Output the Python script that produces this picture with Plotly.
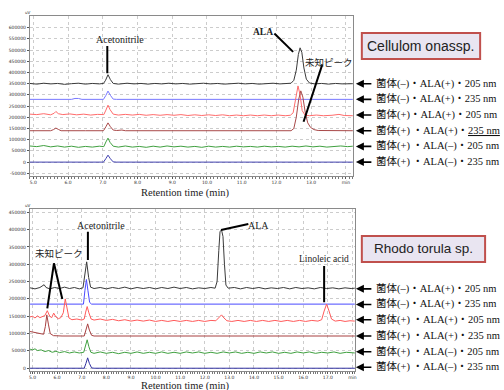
import plotly.graph_objects as go

W, H = 504, 390

# ---------------- data ----------------
# Top panel: Cellulomonas sp.  (time [min], signal [uV])
top_noCell_ALA_205 = [(4.9,351000),(5.1,348000),(5.3,352000),(5.5,349000),(5.7,351000),(5.9,347000),(6.1,350000),(6.3,352000),(6.5,348000),(6.7,351000),(6.9,349000),(7.02,351000),(7.08,365000),(7.15,390000),(7.22,368000),(7.3,351000),(7.45,348000),(7.7,352000),(7.9,349000),(8.1,351000),(8.3,348000),(8.5,351000),(8.7,349000),(8.9,352000),(9.1,349000),(9.3,351000),(9.5,348000),(9.7,350000),(9.9,352000),(10.1,349000),(10.3,351000),(10.5,348000),(10.7,350000),(10.9,352000),(11.1,349000),(11.3,351000),(11.5,348000),(11.7,350000),(11.9,352000),(12.1,349000),(12.3,351000),(12.42,352000),(12.5,365000),(12.57,410000),(12.63,480000),(12.68,510000),(12.73,490000),(12.79,420000),(12.86,370000),(12.95,353000),(13.1,349000),(13.3,351000),(13.5,348000),(13.7,351000),(13.9,349000),(14.2,350000)]
top_noCell_ALA_235 = [(4.9,280000),(6.1,280000),(6.2,284000),(6.3,284000),(6.4,280000),(7.02,280000),(7.09,298000),(7.15,317000),(7.22,298000),(7.3,281000),(7.4,280000),(14.2,280000)]
top_cell_ALA_205 = [(4.9,214000),(5.1,212000),(5.3,216000),(5.5,211000),(5.6,218000),(5.65,226000),(5.72,216000),(5.85,212000),(6.05,215000),(6.25,211000),(6.45,214000),(6.65,210000),(6.85,213000),(7.03,212000),(7.09,232000),(7.15,254000),(7.21,234000),(7.3,214000),(7.45,210000),(7.65,213000),(7.85,210000),(8.05,213000),(8.25,209000),(8.45,212000),(8.65,209000),(8.85,212000),(9.05,209000),(9.25,212000),(9.45,208000),(9.65,211000),(9.85,208000),(10.05,211000),(10.25,208000),(10.45,211000),(10.65,207000),(10.85,210000),(11.05,207000),(11.25,210000),(11.45,207000),(11.65,210000),(11.85,207000),(12.05,210000),(12.25,207000),(12.4,209000),(12.48,220000),(12.55,280000),(12.62,340000),(12.68,300000),(12.74,230000),(12.82,210000),(12.95,207000),(13.15,210000),(13.35,207000),(13.6,209000),(13.8,213000),(13.95,208000),(14.2,207000)]
top_cell_ALA_235 = [(4.9,140000),(5.5,140000),(5.58,145000),(5.65,152000),(5.72,146000),(5.8,140000),(6.5,140000),(7.02,140000),(7.09,158000),(7.15,175000),(7.22,158000),(7.3,143000),(7.4,141000),(7.55,143000),(7.65,140000),(12.42,140000),(12.5,150000),(12.57,200000),(12.64,280000),(12.7,318000),(12.76,290000),(12.83,220000),(12.9,175000),(12.98,155000),(13.08,145000),(13.2,141000),(14.2,140000)]
top_cell_noALA_205 = [(4.9,72000),(5.1,69000),(5.3,74000),(5.5,68000),(5.7,72000),(5.9,67000),(6.1,71000),(6.3,66000),(6.5,70000),(6.7,67000),(6.9,71000),(7.03,69000),(7.09,90000),(7.15,107000),(7.21,88000),(7.3,71000),(7.45,67000),(7.65,72000),(7.85,67000),(8.05,70000),(8.25,66000),(8.45,71000),(8.65,67000),(8.85,72000),(9.05,68000),(9.25,71000),(9.45,67000),(9.65,70000),(9.85,66000),(10.05,71000),(10.25,67000),(10.45,70000),(10.65,67000),(10.85,71000),(11.05,68000),(11.25,70000),(11.45,67000),(11.65,71000),(11.85,68000),(12.05,70000),(12.25,67000),(12.45,71000),(12.65,68000),(12.85,72000),(13.05,68000),(13.25,71000),(13.45,67000),(13.65,70000),(13.85,72000),(14.05,69000),(14.2,71000)]
top_cell_noALA_235 = [(4.9,0),(5.05,0),(5.1,3000),(5.15,0),(5.6,0),(5.65,3000),(5.7,0),(7.02,0),(7.09,16000),(7.15,31000),(7.22,15000),(7.3,1000),(7.4,0),(14.2,0)]

# Bottom panel: Rhodotorula sp.
bot_noCell_ALA_205 = [(4.9,232000),(5.1,229000),(5.3,233000),(5.4,237000),(5.47,241000),(5.55,233000),(5.7,229000),(5.9,233000),(6.1,230000),(6.3,234000),(6.5,230000),(6.7,233000),(6.9,229000),(7.05,232000),(7.12,265000),(7.2,307000),(7.28,262000),(7.36,234000),(7.5,230000),(7.75,233000),(8.0,229000),(8.25,233000),(8.5,230000),(8.75,234000),(9.0,229000),(9.25,233000),(9.5,230000),(9.75,233000),(10.0,229000),(10.25,233000),(10.5,230000),(10.75,234000),(11.0,230000),(11.25,233000),(11.5,229000),(11.75,232000),(12.0,230000),(12.25,233000),(12.42,231000),(12.5,250000),(12.57,340000),(12.62,395000),(12.68,399000),(12.74,380000),(12.8,300000),(12.86,240000),(12.95,231000),(13.2,233000),(13.45,229000),(13.7,233000),(13.95,230000),(14.2,233000),(14.45,229000),(14.7,232000),(14.95,230000),(15.2,233000),(15.45,229000),(15.7,233000),(15.95,230000),(16.2,232000),(16.45,229000),(16.7,233000),(16.95,230000),(17.2,232000),(17.45,229000),(17.7,232000),(17.95,230000),(18.1,231000)]
bot_noCell_ALA_235 = [(4.9,185000),(7.07,185000),(7.13,225000),(7.19,256000),(7.25,225000),(7.32,190000),(7.4,185000),(18.1,185000)]
bot_cell_ALA_205 = [(4.9,148000),(5.0,150000),(5.1,145000),(5.2,151000),(5.3,146000),(5.4,150000),(5.5,152000),(5.6,166000),(5.7,150000),(5.78,146000),(5.86,159000),(5.95,148000),(6.05,143000),(6.15,146000),(6.25,160000),(6.33,200000),(6.4,175000),(6.48,145000),(6.6,140000),(6.8,142000),(7.0,139000),(7.1,142000),(7.16,162000),(7.22,178000),(7.29,160000),(7.38,142000),(7.5,139000),(7.75,142000),(8.0,138000),(8.25,141000),(8.5,137000),(8.75,140000),(9.0,136000),(9.25,139000),(9.5,136000),(9.75,139000),(10.0,135000),(10.25,138000),(10.5,135000),(10.75,138000),(11.0,135000),(11.25,138000),(11.5,135000),(11.75,138000),(12.0,135000),(12.25,138000),(12.45,137000),(12.58,146000),(12.68,154000),(12.78,145000),(12.9,137000),(13.1,135000),(13.35,138000),(13.6,135000),(13.85,138000),(14.1,135000),(14.35,138000),(14.6,135000),(14.85,138000),(15.1,135000),(15.35,138000),(15.6,135000),(15.85,138000),(16.1,135000),(16.35,138000),(16.6,136000),(16.75,140000),(16.85,165000),(16.95,185000),(17.05,165000),(17.15,142000),(17.3,136000),(17.5,138000),(17.7,135000),(17.9,137000),(18.1,136000)]
bot_cell_ALA_235 = [(4.9,106000),(5.1,103000),(5.3,100000),(5.45,98000),(5.52,120000),(5.58,154000),(5.65,125000),(5.72,100000),(5.85,94000),(6.2,93000),(7.1,93000),(7.17,110000),(7.24,128000),(7.31,110000),(7.4,95000),(7.5,93000),(18.1,93000)]
bot_cell_noALA_205 = [(4.9,55000),(5.0,53000),(5.1,56000),(5.2,51000),(5.35,53000),(5.5,48000),(5.65,51000),(5.8,46000),(5.95,49000),(6.1,45000),(6.3,48000),(6.5,44000),(6.7,47000),(6.9,44000),(7.08,46000),(7.15,65000),(7.22,82000),(7.29,62000),(7.37,46000),(7.5,43000),(7.75,47000),(8.0,43000),(8.25,46000),(8.5,42000),(8.75,46000),(9.0,43000),(9.25,47000),(9.5,43000),(9.75,46000),(10.0,43000),(10.25,47000),(10.5,43000),(10.75,46000),(11.0,43000),(11.25,47000),(11.5,44000),(11.75,47000),(12.0,43000),(12.25,46000),(12.5,43000),(12.75,47000),(13.0,44000),(13.25,47000),(13.5,43000),(13.75,46000),(14.0,43000),(14.25,47000),(14.5,44000),(14.75,47000),(15.0,43000),(15.25,46000),(15.5,43000),(15.75,47000),(16.0,44000),(16.25,47000),(16.5,43000),(16.75,46000),(17.0,44000),(17.25,47000),(17.5,43000),(17.75,46000),(18.1,44000)]
bot_cell_noALA_235 = [(4.9,0),(5.55,0),(5.6,2000),(5.65,0),(7.1,0),(7.17,14000),(7.24,30000),(7.31,14000),(7.4,1000),(7.5,0),(18.1,0)]

top_series = [top_noCell_ALA_205, top_noCell_ALA_235, top_cell_ALA_205,
              top_cell_ALA_235, top_cell_noALA_205, top_cell_noALA_235]
bot_series = [bot_noCell_ALA_205, bot_noCell_ALA_235, bot_cell_ALA_205,
              bot_cell_ALA_235, bot_cell_noALA_205, bot_cell_noALA_235]

top_colors = ["#3a3a3a", "#7878ff", "#ff6b6b", "#a84848", "#40a040", "#4040b0"]
bot_colors = ["#3a3a3a", "#4a4aff", "#ff5a5a", "#a84040", "#40a040", "#3030a0"]

top_labels = ["菌体(–)・ALA(+)・205 nm", "菌体(–)・ALA(+)・235 nm", "菌体(+)・ALA(+)・205 nm",
              "菌体(+) ・ALA(+)・<u>235 nm</u>", "菌体(+) ・ALA(–)・205 nm", "菌体(+) ・ALA(–)・235 nm"]
bot_labels = ["菌体(–)・ALA(+)・205 nm", "菌体(–)・ALA(+)・235 nm", "菌体(+) ・ALA(+)・205 nm",
              "菌体(+) ・ALA(+)・235 nm", "菌体(+) ・ALA(–)・205 nm", "菌体(+) ・ALA(–)・235 nm"]
top_label_y = [350000, 280000, 210000, 140000, 70000, 0]
bot_label_y = [229000, 184000, 140000, 93000, 47500, 3000]

top_xticks = [5, 6, 7, 8, 9, 10, 11, 12, 13, 14]
bot_xticks = [5, 6, 7, 8, 9, 10, 11, 12, 13, 14, 15, 16, 17, 18]
top_yticks = list(range(-50000, 600001, 50000))
bot_yticks = list(range(0, 450001, 50000))

# ---------------- figure ----------------
def px(x): return x / W
def py(y): return 1 - y / H

fig = go.Figure()
for s, c in zip(top_series, top_colors):
    fig.add_trace(go.Scatter(x=[p[0] for p in s], y=[p[1] for p in s], mode="lines",
                             line=dict(color=c, width=1), xaxis="x", yaxis="y", showlegend=False))
for s, c in zip(bot_series, bot_colors):
    fig.add_trace(go.Scatter(x=[p[0] for p in s], y=[p[1] for p in s], mode="lines",
                             line=dict(color=c, width=1), xaxis="x2", yaxis="y2", showlegend=False))

TICKF = dict(family="DejaVu Sans", size=4.5, color="#333")
SERIF = "Liberation Serif, Noto Sans CJK JP"

def xax(domain, rng, ticks, anchor):
    return dict(domain=domain, range=rng, anchor=anchor,
                tickvals=ticks, ticktext=[f"{t:.1f}" for t in ticks[:-1]] + ["min"],
                showgrid=True, gridcolor="#cccccc", griddash="dot", gridwidth=1,
                showline=True, linecolor="#8a8a8a", linewidth=1, mirror=True,
                ticks="outside", ticklen=2, tickcolor="#555", tickfont=TICKF,
                minor=dict(dtick=0.1, tick0=5, ticks="outside", ticklen=1.5, tickcolor="#777", showgrid=False),
                zeroline=False)

def yax(domain, rng, ticks, anchor):
    return dict(domain=domain, range=rng, anchor=anchor,
                tickvals=ticks, ticktext=[str(t) for t in ticks],
                showgrid=True, gridcolor="#cccccc", griddash="dot", gridwidth=1,
                showline=True, linecolor="#8a8a8a", linewidth=1, mirror=True,
                ticks="outside", ticklen=2, tickcolor="#555", tickfont=TICKF,
                zeroline=False)

fig.update_layout(
    width=W, height=H, margin=dict(l=0, r=0, t=0, b=0),
    paper_bgcolor="white", plot_bgcolor="white",
    xaxis=xax([px(29), px(354)], [4.9, 14.2], top_xticks, "y"),
    yaxis=yax([py(176), py(16)], [-62000, 652000], top_yticks, "x"),
    xaxis2=xax([px(29), px(356)], [4.89, 18.1], bot_xticks, "y2"),
    yaxis2=yax([py(371), py(209)], [-8000, 459500], bot_yticks, "x2"),
)

ann = []
shapes = []

def label(x, y, text, xr, yr, size=10, fam=SERIF, color="#222"):
    ann.append(dict(x=x, y=y, xref=xr, yref=yr, text=text, showarrow=False,
                    xanchor="center", yanchor="middle",
                    font=dict(family=fam, size=size, color=color)))

def seg(x0, y0, x1, y1, xr, yr, w=2):
    shapes.append(dict(type="line", x0=x0, y0=y0, x1=x1, y1=y1, xref=xr, yref=yr,
                       line=dict(color="black", width=w)))

# top peak labels
label(7.50, 545000, "Acetonitrile", "x", "y")
seg(7.13, 518000, 7.13, 397000, "x", "y")
label(11.60, 580500, "<b>ALA</b>", "x", "y", size=9.5)
seg(11.94, 574000, 12.48, 492000, "x", "y")
label(13.51, 446600, "未知ピーク", "x", "y", size=9.5, fam="Noto Sans CJK JP")
seg(13.32, 436000, 12.78, 180000, "x", "y")

# bottom peak labels
label(7.78, 413000, "Acetonitrile", "x2", "y2")
seg(7.25, 394000, 7.25, 312000, "x2", "y2")
label(6.06, 331600, "未知ピーク", "x2", "y2", size=9.5, fam="Noto Sans CJK JP")
seg(5.87, 302700, 5.60, 172900, "x2", "y2")
seg(5.87, 302700, 6.21, 199700, "x2", "y2")
label(14.18, 413000, "ALA", "x2", "y2")
seg(13.77, 416000, 12.66, 398800, "x2", "y2")
label(16.83, 314300, "Linoleic acid", "x2", "y2", size=9.5)
seg(16.85, 294700, 16.85, 190600, "x2", "y2")

# axis unit labels and titles
for yy in (13, 205):
    ann.append(dict(x=px(27), y=py(yy), xref="paper", yref="paper", text="uV", showarrow=False,
                    xanchor="center", yanchor="middle",
                    font=dict(family="DejaVu Sans", size=4, color="#333")))
for yy in (193, 386):
    ann.append(dict(x=px(186), y=py(yy), xref="paper", yref="paper", text="Retention time (min)",
                    showarrow=False, xanchor="center", yanchor="middle",
                    font=dict(family="Liberation Serif", size=10.5, color="#222")))

# row labels with arrows
def rows(labels, ys, yr):
    for t, yv in zip(labels, ys):
        ann.append(dict(x=px(357), y=yv, xref="paper", yref=yr, text="", showarrow=True,
                        ax=17, ay=0, arrowhead=2, arrowsize=1, arrowwidth=1.6, arrowcolor="black"))
        ann.append(dict(x=px(375), y=yv, xref="paper", yref=yr, text=t, showarrow=False,
                        xanchor="left", yanchor="middle",
                        font=dict(family=SERIF, size=10.5, color="#111")))
rows(top_labels, top_label_y, "y")
rows(bot_labels, bot_label_y, "y2")

# species boxes
for (x0, y0, x1, y1, t, fs) in [(363, 33, 482, 59, "Cellulom onassp.", 14),
                                (363, 236, 487, 262, "Rhodo torula sp.", 13.5)]:
    shapes.append(dict(type="rect", x0=px(x0), x1=px(x1), y0=py(y1), y1=py(y0), xref="paper", yref="paper",
                       fillcolor="#e9e5f1", line=dict(color="#c0504d", width=2)))
    ann.append(dict(x=px((x0 + x1) / 2), y=py((y0 + y1) / 2), xref="paper", yref="paper", text=t,
                    showarrow=False, xanchor="center", yanchor="middle",
                    font=dict(family="Liberation Sans", size=fs, color="#222")))

fig.update_layout(annotations=ann, shapes=shapes)
fig.write_html("out.html", config={"displayModeBar": False, "staticPlot": True},
               post_script="document.body.style.margin='0px';document.body.style.padding='0px';document.body.style.overflow='hidden';")
